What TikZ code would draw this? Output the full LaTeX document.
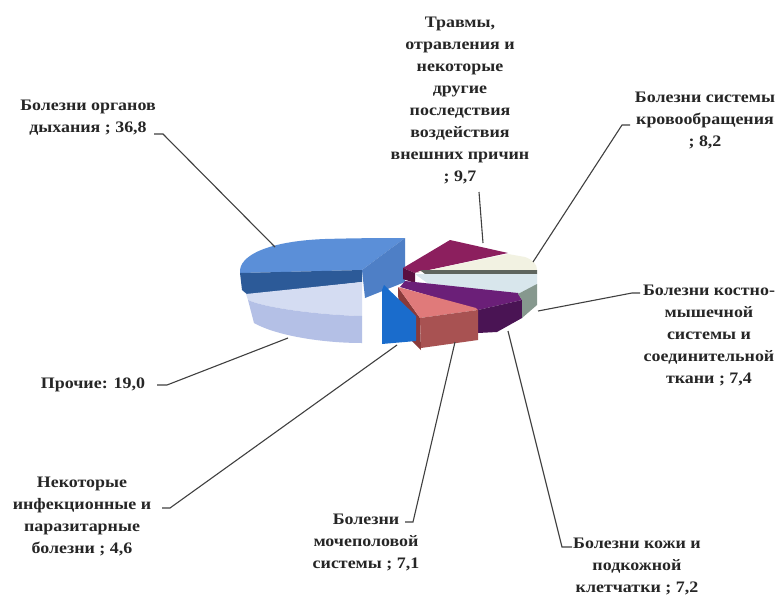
\documentclass[tikz,border=0pt]{standalone}
\usepackage{fontspec}
\setmainfont{Liberation Serif}[FakeStretch=1.12]
\begin{document}
\begin{tikzpicture}[x=1pt,y=-1pt,
  lbl/.style={font=\fontsize{16}{22}\selectfont\bfseries, text=black!85, align=center, inner sep=0pt},
  conn/.style={draw=black!75, line width=1.1pt},
  face/.style={draw=none}]
\useasboundingbox (0,0) rectangle (782,600);
\fill[white] (0,0) rectangle (782,600);
% colours
\definecolor{bigtop}{HTML}{5B8FD8}
\definecolor{bigcut}{HTML}{4E7FC6}
\definecolor{bigband}{HTML}{2C5A98}
\definecolor{lavtop}{HTML}{D4DCF2}
\definecolor{lavside}{HTML}{B4C0E6}
\definecolor{smblue}{HTML}{1A6CCC}
\definecolor{salmtop}{HTML}{E07A7A}
\definecolor{salmfront}{HTML}{A85252}
\definecolor{salmside}{HTML}{8A3A3A}
\definecolor{purtop}{HTML}{6B1F78}
\definecolor{purfront}{HTML}{4A1454}
\definecolor{martop}{HTML}{8C1F5E}
\definecolor{marside}{HTML}{5A1040}
\definecolor{cream}{HTML}{F2F2E2}
\definecolor{grayband}{HTML}{5E655E}
\definecolor{lightface}{HTML}{D8E6EC}
\definecolor{grgreen}{HTML}{86988E}
% --- big blue slice (respiratory)
\fill[bigtop] (240,273) .. controls (238,255) and (270,241) .. (325,239)
  .. controls (360,238) and (390,238) .. (405,238) -- (362,270) -- cycle;
\fill[bigband] (240,273) -- (362,270) -- (362,282) -- (248,295) -- (242,290) -- cycle;
\fill[bigcut] (362,270) -- (405,238) -- (405,282) -- (365,298) -- cycle;
% --- lavender slice (other)
\fill[lavtop] (246,294) -- (362,282) -- (362,316)
  .. controls (320,315) and (265,308) .. (248,300) -- cycle;
\fill[lavside] (248,300) .. controls (265,308) and (320,315) .. (362,316)
  -- (362,343) .. controls (320,343) and (275,335) .. (254,323) -- cycle;
% --- right slices
\fill[martop] (403,268) -- (450,240) -- (508,253) -- (415,273) -- cycle;
\fill[marside] (403,268) -- (415,273) -- (415,283) -- (403,279) -- cycle;
\fill[cream] (415,273) -- (508,254) -- (525,257) .. controls (533,260) and (537,264) .. (537,270) -- (420,271) -- cycle;
\fill[grayband] (420,270) -- (537,270) -- (537,274) -- (425,274) -- cycle;
\fill[lightface] (415,274) -- (537,274) -- (537,285) -- (518,294) -- (430,285) -- cycle;
\fill[purtop] (405,281) -- (518,293) -- (522,300) -- (478,310) -- (400,287) -- cycle;
\fill[purfront] (478,310) -- (522,300) -- (522,318) -- (497,332) -- (478,333) -- cycle;
\fill[grgreen] (518,294) -- (537,284) -- (537,305) -- (522,318) -- (522,300) -- cycle;
\fill[salmside] (398,287) -- (420,318) -- (421,350) -- (399,328) -- cycle;
\fill[salmtop] (398,287) -- (476,308) -- (478,310) -- (420,318) -- cycle;
\fill[salmfront] (420,318) -- (478,310) -- (478,340) -- (421,348) -- cycle;
\fill[smblue] (384,285) -- (416,316) -- (416,341) -- (382,344) -- (382,290) -- cycle;
% --- labels
\node[lbl] (resp) at (88,118) {Болезни органов\\дыхания ; 36,8};
\node[lbl] (inj) at (460,100) {Травмы,\\отравления и\\некоторые\\другие\\последствия\\воздействия\\внешних причин\\; 9,7};
\node[lbl] (circ) at (705,120) {Болезни системы\\кровообращения\\; 8,2};
\node[lbl] (musc) at (709,335) {Болезни костно-\\мышечной\\системы и\\соединительной\\ткани ; 7,4};
\node[lbl] (skin) at (637,566) {Болезни кожи и\\подкожной\\клетчатки ; 7,2};
\node[lbl] (uro) at (366,542) {Болезни\\мочеполовой\\системы ; 7,1};
\node[lbl] (inf) at (82,516) {Некоторые\\инфекционные и\\паразитарные\\болезни ; 4,6};
\node[lbl] (oth) at (93,385) {Прочие: 19,0};
% --- connector points
\coordinate (pResp) at (275,247); \coordinate (tResp) at (163,134);
\coordinate (pInj) at (483,243);  \coordinate (tInj) at (479,192);
\coordinate (pCirc) at (533,262); \coordinate (tCirc) at (622,125);
\coordinate (pMusc) at (538,311); \coordinate (tMusc) at (632,293);
\coordinate (pSkin) at (508,331); \coordinate (tSkin) at (562,547);
\coordinate (pUro) at (455,342);  \coordinate (tUro) at (413,522);
\coordinate (pInf) at (397,345);  \coordinate (tInf) at (170,508);
\coordinate (pOth) at (288,338);  \coordinate (tOth) at (167,385);
\draw[conn] (pResp) -- (tResp) -- ++(-9,0);
\draw[conn] (pInj) -- (tInj);
\draw[conn] (pCirc) -- (tCirc) -- ++(8,0);
\draw[conn] (pMusc) -- (tMusc) -- ++(8,0);
\draw[conn] (pSkin) -- (tSkin) -- ++(10,0);
\draw[conn] (pUro) -- (tUro) -- ++(-8,0);
\draw[conn] (pInf) -- (tInf) -- ++(-8,0);
\draw[conn] (pOth) -- (tOth) -- ++(-10,0);
\end{tikzpicture}
\end{document}
